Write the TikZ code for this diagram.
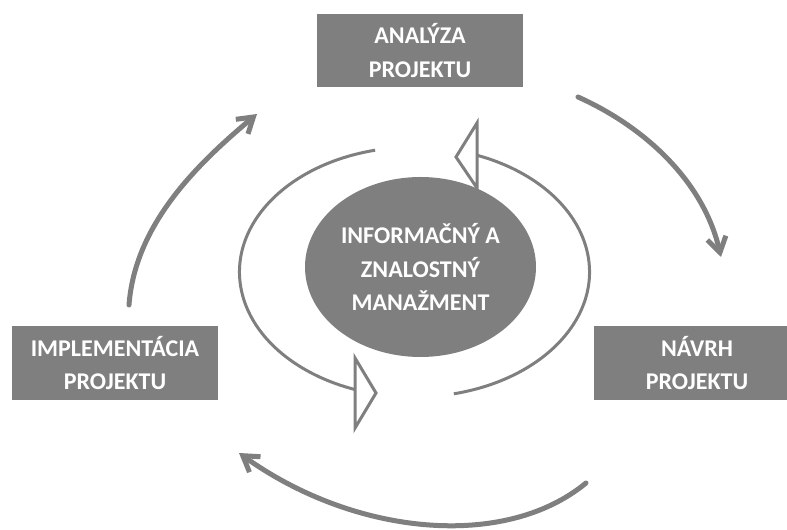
\documentclass[tikz,border=0pt]{standalone}
\usepackage{fontspec}
\setmainfont{Carlito}
\usetikzlibrary{arrows.meta,shapes.geometric}
\definecolor{boxgray}{RGB}{127,127,127}
\begin{document}
\begin{tikzpicture}[x=1pt,y=1pt,
  label/.style={text=white, font=\bfseries\fontsize{24}{33.5}\selectfont, align=center, inner sep=0pt},
  box/.style={label, fill=boxgray},
  flow/.style={draw=boxgray, line width=5pt, line cap=round, -{Straight Barb[length=15pt,width=19pt]}},
  loopline/.style={draw=boxgray, line width=3pt},
  hollow/.style={draw=boxgray, line width=3pt, fill=white, line join=miter}]
\useasboundingbox (0,0) rectangle (787,530);
\clip (0,0) rectangle (787,530);
\node[box, minimum width=206pt, minimum height=73pt] (ana) at (420,479.5) {ANALÝZA\\PROJEKTU};
\node[box, minimum width=206pt, minimum height=74pt] (impl) at (115,167) {IMPLEMENTÁCIA\\PROJEKTU};
\node[box, minimum width=206pt, minimum height=74pt] (nav) at (697,167) {NÁVRH\\PROJEKTU};
\node[ellipse, fill=boxgray, inner sep=0pt, minimum width=231pt, minimum height=180pt] (km) at (420.5,263) {};
\node[label] (kmtext) at (km.center) {INFORMAČNÝ A\\ZNALOSTNÝ\\MANAŽMENT};
% outer cycle arrows
\coordinate (a1s) at (578,433);
\coordinate (a1e) at (721,273);
\coordinate (a2s) at (586,47);
\coordinate (a2e) at (239,77);
\coordinate (a3s) at (129,225);
\coordinate (a3e) at (257,416);
\draw[flow] (a1s) .. controls (647,402) and (704,347) .. (a1e);
\draw[flow] (a2s) .. controls (505,-20) and (355,-6) .. (a2e);
\draw[flow] (a3s) .. controls (135,305) and (196,365) .. (a3e);
% inner loop
\coordinate (lc) at (414.5,258);
\draw[loopline] (lc) ++(103:175 and 125) arc[start angle=103, end angle=250, x radius=175, y radius=125];
\draw[loopline] (lc) ++(-77:175 and 125) arc[start angle=-77, end angle=69, x radius=175, y radius=125];
\draw[hollow] (355,172) -- (376,137) -- (355,102) -- cycle;
\draw[hollow] (477,407) -- (456,373) -- (477,342) -- cycle;
\end{tikzpicture}
\end{document}
